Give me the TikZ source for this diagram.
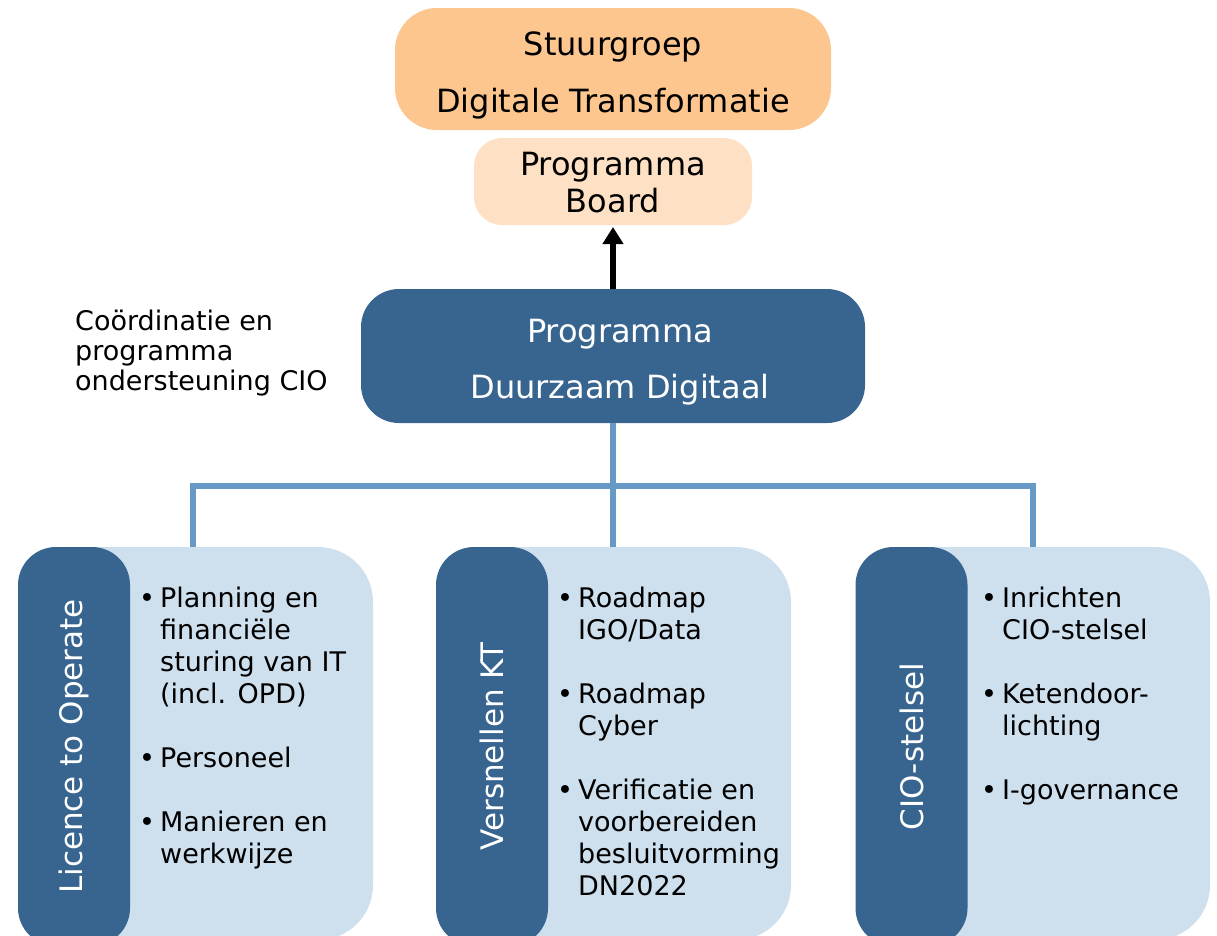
\documentclass[tikz,border=0pt]{standalone}
\usepackage{fontspec}
\setmainfont{DejaVu Sans}
\usetikzlibrary{arrows.meta}
\definecolor{orangeA}{RGB}{252,198,142}
\definecolor{peachA}{RGB}{254,224,196}
\definecolor{darkblue}{RGB}{55,101,143}
\definecolor{lightblue}{RGB}{206,223,237}
\definecolor{connblue}{RGB}{102,153,198}
\newcommand{\mybul}{\makebox[21pt][l]{•}}
\begin{document}
\begin{tikzpicture}[x=1pt,y=-1pt,
  shapebox/.style={inner sep=0pt, outer sep=0pt},
  bigtxt/.style={inner sep=0pt, anchor=base, font=\fontsize{32}{37}\selectfont},
  bultxt/.style={inner sep=0pt, anchor=base west, font=\fontsize{27}{32}\selectfont},
  vtxt/.style={inner sep=0pt, rotate=90, text=white, font=\fontsize{31}{37}\selectfont},
  conn/.style={draw=connblue, line width=5.5pt, line join=miter}]
\useasboundingbox (0,0) rectangle (1217,935);
\clip (0,0) rectangle (1217,935);

% top boxes
\node[shapebox, fill=orangeA, rounded corners=42pt, minimum width=436pt, minimum height=122pt] (stuur) at (613,69) {};
\node[bigtxt] (stuurtxt) at (613,55) {\fontsize{32}{57}\selectfont\begin{tabular}[t]{@{}c@{}}Stuurgroep\\Digitale Transformatie\end{tabular}};

\node[shapebox, fill=peachA, rounded corners=28pt, minimum width=278pt, minimum height=87pt] (board) at (613,181.5) {};
\node[bigtxt] (boardtxt) at (613,175) {\begin{tabular}[t]{@{}c@{}}Programma\\Board\end{tabular}};

\node[shapebox, fill=darkblue, rounded corners=38pt, minimum width=504pt, minimum height=134pt] (prog) at (613,356) {};
\node[bigtxt, text=white] (progtxt) at (620,342) {\fontsize{32}{56}\selectfont\begin{tabular}[t]{@{}c@{}}Programma\\Duurzaam Digitaal\end{tabular}};

\draw[-{Triangle[width=20pt,length=17pt]}, line width=6.5pt, shorten >=2pt] (prog.north) -- (board.south);

\node[bultxt, font=\fontsize{27}{30}\selectfont] (coord) at (75,330) {\begin{tabular}[t]{@{}l@{}}Coördinatie en\\programma\\ondersteuning CIO\end{tabular}};

% bottom light boxes
\node[shapebox, fill=lightblue, rounded corners=55pt, minimum width=355pt, minimum height=393pt] (l1) at (195.5,743.5) {};
\node[shapebox, fill=lightblue, rounded corners=55pt, minimum width=355pt, minimum height=393pt] (l2) at (613.5,743.5) {};
\node[shapebox, fill=lightblue, rounded corners=55pt, minimum width=354pt, minimum height=393pt] (l3) at (1033,743.5) {};

% connectors
\coordinate (hl) at (193,486);
\coordinate (hr) at (1033,486);
\draw[conn] (prog.south) -- (prog.south |- l2.north);
\draw[conn] (hl |- l1.north) -- (hl) -- (hr) -- (hr |- l3.north);

% dark bars
\node[shapebox, fill=darkblue, rounded corners=38pt, minimum width=112pt, minimum height=399pt] (d1) at (74,746.5) {};
\node[shapebox, fill=darkblue, rounded corners=38pt, minimum width=112pt, minimum height=399pt] (d2) at (492,746.5) {};
\node[shapebox, fill=darkblue, rounded corners=38pt, minimum width=112pt, minimum height=399pt] (d3) at (911.5,746.5) {};

\node[vtxt] (v1) at (d1.center) {Licence to Operate};
\node[vtxt] (v2) at (d2.center) {Versnellen KT};
\node[vtxt] (v3) at (d3.center) {CIO-stelsel};

% bullet texts
\node[bultxt] (b1) at (139,607.5) {\begin{tabular}[t]{@{}l@{}l@{}}
\mybul & Planning en\\ & financiële\\ & sturing van IT\\ & (incl. OPD)\\ & \\
\mybul & Personeel\\ & \\
\mybul & Manieren en\\ & werkwijze\end{tabular}};
\node[bultxt] (b2) at (557,607.5) {\begin{tabular}[t]{@{}l@{}l@{}}
\mybul & Roadmap\\ & IGO/Data\\ & \\
\mybul & Roadmap\\ & Cyber\\ & \\
\mybul & Verificatie en\\ & voorbereiden\\ & besluitvorming\\ & DN2022\end{tabular}};
\node[bultxt] (b3) at (981,607.5) {\begin{tabular}[t]{@{}l@{}l@{}}
\mybul & Inrichten\\ & CIO-stelsel\\ & \\
\mybul & Ketendoor-\\ & lichting\\ & \\
\mybul & I-governance\end{tabular}};
\end{tikzpicture}
\end{document}
